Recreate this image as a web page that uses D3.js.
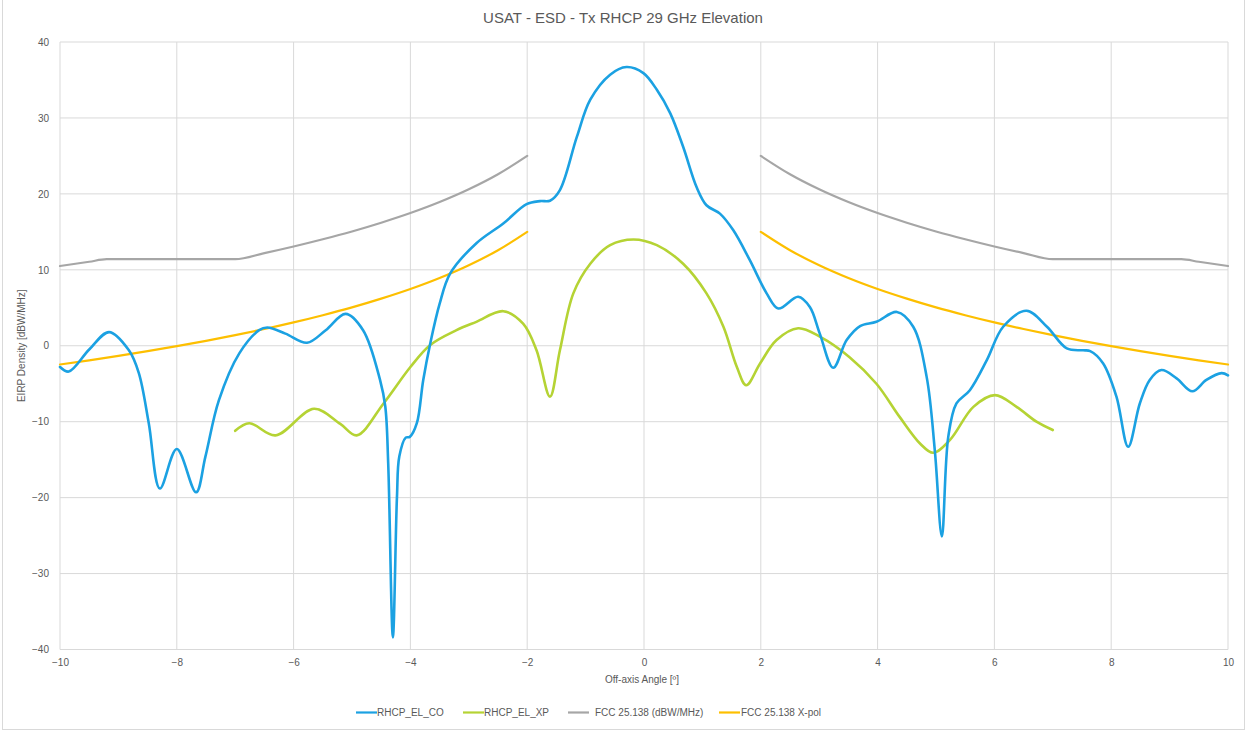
<!DOCTYPE html>
<html><head><meta charset="utf-8">
<script src="https://cdn.jsdelivr.net/npm/d3@7"></script>
<style>body{margin:0;background:#fff;} text{font-family:"Liberation Sans",Arial,sans-serif;}</style>
</head><body><svg id="c" width="1247" height="733"></svg>
<script>
const title = "USAT - ESD - Tx RHCP 29 GHz Elevation";
const xTicks = [-10,-8,-6,-4,-2,0,2,4,6,8,10];
const yTicks = [-40,-30,-20,-10,0,10,20,30,40];
const seriesNames = ["RHCP_EL_CO","RHCP_EL_XP","FCC 25.138 (dBW/MHz)","FCC 25.138 X-pol"];

const coAngle = [-10,-9.85,-9.5,-9.16,-8.82,-8.65,-8.48,-8.29,-8.0,-7.67,-7.51,-7.28,-6.93,-6.59,-6.45,-6.14,-5.77,-5.45,-5.11,-4.81,-4.52,-4.43,-4.38,-4.30,-4.23,-4.19,-4.08,-4.01,-3.89,-3.78,-3.66,-3.5,-3.32,-2.87,-2.41,-2.01,-1.78,-1.61,-1.44,-1.15,-0.92,-0.58,-0.30,-0.01,0.22,0.45,0.67,0.90,1.07,1.30,1.53,1.81,2.10,2.30,2.64,2.84,3.01,3.24,3.47,3.70,3.98,4.33,4.61,4.84,4.98,5.10,5.21,5.35,5.58,5.87,6.15,6.55,6.90,7.24,7.52,7.64,7.86,8.09,8.29,8.49,8.66,8.86,9.12,9.39,9.63,9.89,10];
const coValue = [-2.8,-3.4,-0.5,1.8,-0.6,-3.6,-10.2,-18.8,-13.6,-19.3,-14.6,-7.2,-1.0,2.05,2.4,1.6,0.4,2.05,4.2,2.05,-4.5,-8,-15.5,-38.4,-19.9,-14.6,-12.1,-12.0,-10.2,-4.5,0.3,5.5,9.5,13.5,16.1,18.65,19.05,19.1,20.5,27.5,32.4,35.7,36.7,35.9,33.7,30.6,26.2,20.9,18.5,17.4,15.2,11.3,6.9,4.9,6.45,5.1,1.6,-2.9,0.75,2.6,3.15,4.45,2.5,-4.1,-13.8,-25.1,-12.0,-7.6,-5.85,-1.9,2.5,4.6,2.5,-0.35,-0.6,-0.7,-2.3,-6.7,-13.3,-7.6,-4.5,-3.2,-4.3,-6.0,-4.5,-3.6,-3.9];

const xpAngle = [-7.0,-6.76,-6.31,-5.65,-5.2,-4.92,-4.46,-4.0,-3.66,-3.21,-2.87,-2.41,-2.07,-1.84,-1.61,-1.44,-1.21,-0.92,-0.58,-0.18,0.22,0.67,1.07,1.36,1.59,1.75,1.99,2.27,2.64,3.01,3.52,3.98,4.38,4.73,4.95,5.24,5.64,6.01,6.38,6.72,7.0];
const xpValue = [-11.2,-10.2,-11.8,-8.3,-10.3,-11.8,-7.6,-2.8,0.1,2.05,3.15,4.55,2.9,-0.6,-6.7,-0.6,6.9,10.8,13.25,14.0,13.25,10.8,6.9,2.5,-2.8,-5.2,-2.3,0.75,2.3,1.2,-1.5,-5.0,-9.4,-12.9,-14.1,-12.4,-8.05,-6.5,-8.05,-10.0,-11.1];

const fccAngle = [-10,-9.5,-9.2,-7,-6.5,-6,-5.5,-5,-4.5,-4,-3.5,-3,-2.5,-2, null, 2,2.5,3,3.5,4,4.5,5,5.5,6,6.5,7,9.2,9.5,10];
const fccValue = [10.5,11.06,11.4,11.4,12.2,13.07,14.02,15.05,16.2,17.47,18.92,20.6,22.58,25, null, 25,22.58,20.6,18.92,17.47,16.2,15.05,14.02,13.07,12.2,11.4,11.4,11.06,10.5];

const xpolAngle = [-10,-9.5,-9,-8.5,-8,-7.5,-7,-6.5,-6,-5.5,-5,-4.5,-4,-3.5,-3,-2.5,-2, null, 2,2.5,3,3.5,4,4.5,5,5.5,6,6.5,7,7.5,8,8.5,9,9.5,10];
const xpolValue = [-2.47,-1.92,-1.33,-0.71,-0.05,0.65,1.4,2.2,3.07,4.02,5.05,6.2,7.47,8.92,10.6,12.58,15, null, 15,12.58,10.6,8.92,7.47,6.2,5.05,4.02,3.07,2.2,1.4,0.65,-0.05,-0.71,-1.33,-1.92,-2.47];

const colors = ["#1ba1e2","#b5d334","#a6a6a6","#fdbf00"];
const widths = [2.6,2.6,2.2,2.2];

const svg = d3.select("#c");
svg.append("rect").attr("x",2.5).attr("y",-2).attr("width",1242).attr("height",731.5)
  .attr("fill","#fff").attr("stroke","#d9d9d9").attr("stroke-width",1);

const L=60, R=1228, T=42, B=649.5;
const x = d3.scaleLinear().domain([-10,10]).range([L,R]);
const y = d3.scaleLinear().domain([-40,40]).range([B,T]);

const g = svg.append("g");
g.selectAll("line.vx").data(xTicks).join("line").attr("class","vx")
  .attr("x1",d=>x(d)).attr("x2",d=>x(d)).attr("y1",T).attr("y2",B)
  .attr("stroke","#d9d9d9").attr("stroke-width",1);
g.selectAll("line.hy").data(yTicks).join("line").attr("class","hy")
  .attr("x1",L).attr("x2",R).attr("y1",d=>y(d)).attr("y2",d=>y(d))
  .attr("stroke","#d9d9d9").attr("stroke-width",1);

const xa = svg.append("g").attr("transform",`translate(0,${B})`)
  .call(d3.axisBottom(x).tickValues(xTicks).tickSize(0).tickPadding(9).tickFormat(d3.format("d")));
const ya = svg.append("g").attr("transform",`translate(${L},0)`)
  .call(d3.axisLeft(y).tickValues(yTicks).tickSize(0).tickPadding(11).tickFormat(d3.format("d")));
[xa,ya].forEach(a=>{a.select(".domain").remove();
  a.selectAll("text").attr("fill","#595959").attr("font-size","10px")
   .attr("font-family","'Liberation Sans',Arial,sans-serif");});

const smooth = d3.line().defined(d=>d[0]!==null).x(d=>x(d[0])).y(d=>y(d[1])).curve(d3.curveCatmullRom.alpha(0.5));
const mono = d3.line().defined(d=>d[0]!==null).x(d=>x(d[0])).y(d=>y(d[1])).curve(d3.curveMonotoneX);
const zip = (a,b)=>a.map((v,i)=>[v,b[i]]);
const data = [zip(coAngle,coValue),zip(xpAngle,xpValue),zip(fccAngle,fccValue),zip(xpolAngle,xpolValue)];
[2,3,1,0].forEach(i=>{
  const gen = i>=2 ? mono : smooth;
  svg.append("path").attr("d",gen(data[i])).attr("fill","none")
    .attr("stroke",colors[i]).attr("stroke-width",widths[i]).attr("stroke-linejoin","round").attr("stroke-linecap","round");
});

svg.append("text").attr("x",623).attr("y",23).attr("text-anchor","middle")
  .attr("font-size","15px").attr("fill","#595959").text(title);
svg.append("text").attr("x",642).attr("y",683).attr("text-anchor","middle")
  .attr("font-size","10px").attr("fill","#595959").text("Off-axis Angle [º]");
svg.append("text").attr("transform",`translate(25,${(T+B)/2}) rotate(-90)`).attr("text-anchor","middle")
  .attr("font-size","10px").attr("fill","#595959").text("EIRP Density [dBW/MHz]");

const legX = [356,463,568,719];
const legTx = [377,484,595,741];
seriesNames.forEach((n,i)=>{
  svg.append("line").attr("x1",legX[i]).attr("x2",legX[i]+21).attr("y1",712.5).attr("y2",712.5)
    .attr("stroke",colors[i]).attr("stroke-width",2.2);
  svg.append("text").attr("x",legTx[i]).attr("y",716).attr("font-size","10px").attr("fill","#595959").text(n);
});
</script></body></html>
